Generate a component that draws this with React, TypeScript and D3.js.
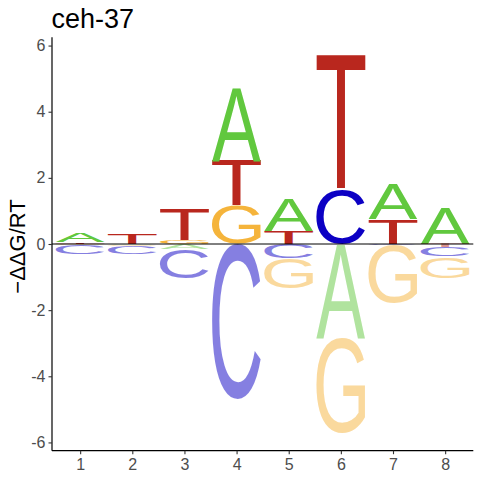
import { useRef, useEffect } from 'react';
import * as d3 from 'd3';

const positions = [1, 2, 3, 4, 5, 6, 7, 8];
const energyA = [0.26, -0.02, -0.15, 2.2, 0.98, -2.84, 1.03, 1.07];
const energyC = [-0.29, -0.23, -0.88, -4.7, -0.43, 1.64, -0.02, -0.28];
const energyG = [-0.02, -0.05, 0.12, 1.15, -0.92, -2.87, -1.75, -0.65];
const energyT = [0.05, 0.31, 0.93, 1.36, 0.4, 4.07, 0.76, -0.1];
const yTicks = [-6, -4, -2, 0, 2, 4, 6];

const letters = ['A', 'C', 'G', 'T'];
const colors: Record<string, string> = {
  A: '#61c83e',
  C: '#0c00c4',
  G: '#f5b43b',
  T: '#b9271e',
};

const FONT = "'Liberation Sans', Arial, sans-serif";

interface Glyph {
  pos: number;
  letter: string;
  lo: number;
  hi: number;
  neg: boolean;
}

export default function App() {
  const ref = useRef<SVGSVGElement>(null);

  useEffect(() => {
    if (!ref.current) return;
    const svg = d3.select(ref.current);
    svg.selectAll('*').remove();

    const x = d3.scaleLinear().domain([0.46, 8.54]).range([52, 473.3]);
    const y = d3.scaleLinear().domain([-6.25, 6.25]).range([450.7, 37.3]);
    const bw = (x(1) - x(0)) * 0.94;

    // ink bounds of each letter, measured on a canvas
    const ctx = document.createElement('canvas').getContext('2d')!;
    ctx.font = `100px ${FONT}`;
    const metrics: Record<string, TextMetrics> = {};
    letters.forEach((l) => (metrics[l] = ctx.measureText(l)));

    const series: Record<string, number[]> = {
      A: energyA,
      C: energyC,
      G: energyG,
      T: energyT,
    };

    const glyphs: Glyph[] = [];
    positions.forEach((p, i) => {
      const vals = letters.map((l) => ({ l, v: series[l][i] }));
      let up = 0;
      vals
        .filter((d) => d.v > 0)
        .sort((a, b) => a.v - b.v)
        .forEach((d) => {
          glyphs.push({ pos: p, letter: d.l, lo: up, hi: up + d.v, neg: false });
          up += d.v;
        });
      let down = 0;
      vals
        .filter((d) => d.v < 0)
        .sort((a, b) => b.v - a.v)
        .forEach((d) => {
          glyphs.push({ pos: p, letter: d.l, lo: down + d.v, hi: down, neg: true });
          down += d.v;
        });
    });

    svg
      .append('g')
      .selectAll('text')
      .data(glyphs)
      .join('text')
      .attr('font-family', FONT)
      .attr('font-size', 100)
      .attr('fill', (d) => colors[d.letter])
      .attr('fill-opacity', (d) => (d.neg ? 0.5 : 1))
      .attr('transform', (d) => {
        const m = metrics[d.letter];
        const L = m.actualBoundingBoxLeft;
        const R = m.actualBoundingBoxRight;
        const asc = m.actualBoundingBoxAscent;
        const desc = m.actualBoundingBoxDescent;
        const h = y(d.lo) - y(d.hi);
        const sx = bw / (L + R);
        const sy = h / (asc + desc);
        return `translate(${x(d.pos) - bw / 2},${y(d.hi)}) scale(${sx},${sy}) translate(${L},${asc})`;
      })
      .text((d) => d.letter);

    // zero line
    svg
      .append('line')
      .attr('x1', 52)
      .attr('x2', 473.3)
      .attr('y1', y(0))
      .attr('y2', y(0))
      .attr('stroke', '#000')
      .attr('stroke-width', 1);

    const yAxis = svg
      .append('g')
      .attr('transform', 'translate(52,0)')
      .call(
        d3
          .axisLeft(y)
          .tickValues(yTicks)
          .tickSize(3.5)
          .tickPadding(3)
          .tickFormat((d) => `${d}`)
      );
    yAxis.select('.domain').attr('stroke', '#000').attr('stroke-width', 1.2).attr('d', 'M0,37.3V450.7');

    const xAxis = svg
      .append('g')
      .attr('transform', 'translate(0,450.7)')
      .call(d3.axisBottom(x).tickValues(positions).tickSize(3.5).tickPadding(4).tickFormat((d) => `${d}`));
    xAxis.select('.domain').attr('stroke', '#000').attr('stroke-width', 1.2).attr('d', 'M52,0H473.3');

    svg.selectAll('.tick line').attr('stroke', '#333').attr('stroke-width', 1.1);
    svg
      .selectAll('.tick text')
      .attr('fill', '#4d4d4d')
      .attr('font-family', FONT)
      .attr('font-size', 16);

    svg
      .append('text')
      .attr('x', 51.5)
      .attr('y', 27.5)
      .attr('font-family', FONT)
      .attr('font-size', 27)
      .attr('fill', '#000')
      .text('ceh-37');

    svg
      .append('text')
      .attr('transform', 'translate(24.5,246.5) rotate(-90)')
      .attr('text-anchor', 'middle')
      .attr('font-family', FONT)
      .attr('font-size', 22)
      .attr('fill', '#000')
      .text('\u2212\u0394\u0394G/RT');
  }, []);

  return (
    <svg
      ref={ref}
      width={480}
      height={480}
      style={{ position: 'absolute', left: 0, top: 0, background: '#fff' }}
    />
  );
}
